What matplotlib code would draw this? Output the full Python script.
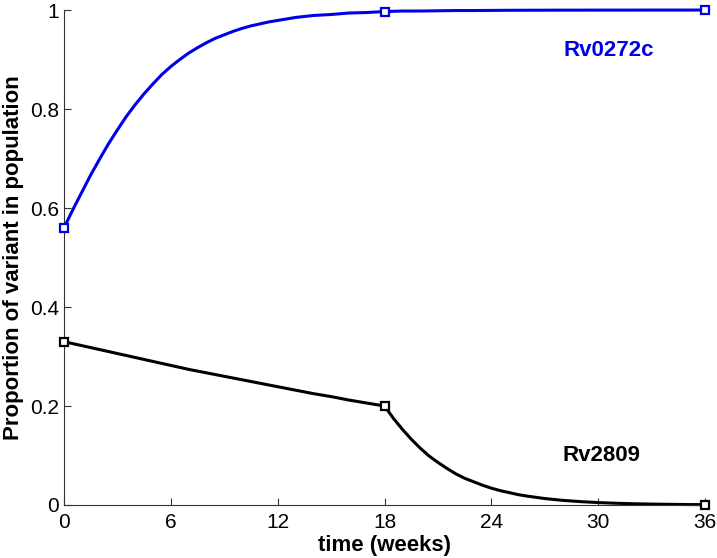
import matplotlib.pyplot as plt

plt.rcParams['font.family'] = ['Liberation Sans', 'DejaVu Sans']

# Rv0272c (blue)
weeks_blue = [0, 0.5, 1, 1.5, 2, 2.5, 3, 3.5, 4, 4.5, 5, 5.5, 6, 6.5, 7, 7.5, 8, 8.5,
              9, 9.5, 10, 10.5, 11, 11.5, 12, 13, 14, 15, 16, 17, 18, 19, 20, 21, 22,
              23, 24, 25, 26, 27, 28, 29, 30, 31, 32, 33, 34, 35, 36]
rv0272c = [0.560, 0.597, 0.632, 0.667, 0.699, 0.730, 0.758, 0.785, 0.809, 0.831,
           0.851, 0.870, 0.886, 0.900, 0.913, 0.924, 0.934, 0.943, 0.950, 0.957,
           0.963, 0.968, 0.972, 0.976, 0.979, 0.985, 0.989, 0.991, 0.994, 0.995,
           0.997, 0.998, 0.998, 0.9985, 0.999, 0.999, 0.9993, 0.9995, 0.9996,
           0.9997, 0.9998, 0.9998, 0.9999, 0.9999, 0.9999, 1.0, 1.0, 1.0, 1.0]

# Rv2809 (black)
weeks_black = [0, 1, 2, 3, 4, 5, 6, 7, 8, 9, 10, 11, 12, 13, 14, 15, 16, 17, 18,
               18.5, 19, 19.5, 20, 20.5, 21, 21.5, 22, 22.5, 23, 23.5, 24, 24.5, 25,
               25.5, 26, 27, 28, 29, 30, 31, 32, 33, 34, 35, 36]
rv2809 = [0.330, 0.322, 0.314, 0.306, 0.298, 0.290, 0.282, 0.274, 0.267, 0.260,
          0.253, 0.246, 0.239, 0.232, 0.225, 0.219, 0.212, 0.206, 0.200,
          0.175, 0.153, 0.133, 0.115, 0.099, 0.086, 0.074, 0.063, 0.054, 0.047,
          0.040, 0.034, 0.029, 0.025, 0.021, 0.018, 0.013, 0.0094, 0.0068,
          0.0049, 0.0035, 0.0025, 0.0018, 0.0013, 0.0009, 0.0007]

# measured time points (square markers)
sample_weeks = [0, 18, 36]
rv0272c_obs = [0.56, 0.997, 1.0]
rv2809_obs = [0.33, 0.20, 0.0]

blue = '#0000e6'

fig = plt.figure(figsize=(7.17, 5.58), dpi=100)
ax = fig.add_axes([0.0893, 0.095, 0.894, 0.887])

ax.plot(weeks_blue, rv0272c, color=blue, lw=2.2, clip_on=False)
ax.plot(sample_weeks, rv0272c_obs, 's', color=blue, mfc='white', mew=1.6, ms=6, clip_on=False, zorder=5)
ax.plot(weeks_black, rv2809, color='black', lw=2.2, clip_on=False)
ax.plot(sample_weeks, rv2809_obs, 's', color='black', mfc='white', mew=1.6, ms=6, clip_on=False, zorder=5)

ax.text(30.6, 0.919, 'Rv0272c', color=blue, fontsize=16, fontweight='bold', ha='center', va='center')
ax.text(30.2, 0.099, 'Rv2809', color='black', fontsize=16, fontweight='bold', ha='center', va='center')

ax.set_xlim(0, 36)
ax.set_ylim(0, 1)
ax.set_xticks([0, 6, 12, 18, 24, 30, 36])
ax.set_yticks([0, 0.2, 0.4, 0.6, 0.8, 1])
ax.set_yticklabels(['0', '0.2', '0.4', '0.6', '0.8', '1'])
ax.tick_params(direction='in', length=5, width=0.8, labelsize=15, colors='#333333', labelcolor='black')
ax.tick_params(axis='x', pad=6)
for side in ['top', 'right']:
    ax.spines[side].set_visible(False)
for side in ['left', 'bottom']:
    ax.spines[side].set_color('#333333')
    ax.spines[side].set_linewidth(0.8)

ax.set_xlabel('time (weeks)', fontsize=16, fontweight='bold', labelpad=2)
ax.set_ylabel('Proportion of variant in population', fontsize=16, fontweight='bold', labelpad=4)

plt.savefig('out.png')
